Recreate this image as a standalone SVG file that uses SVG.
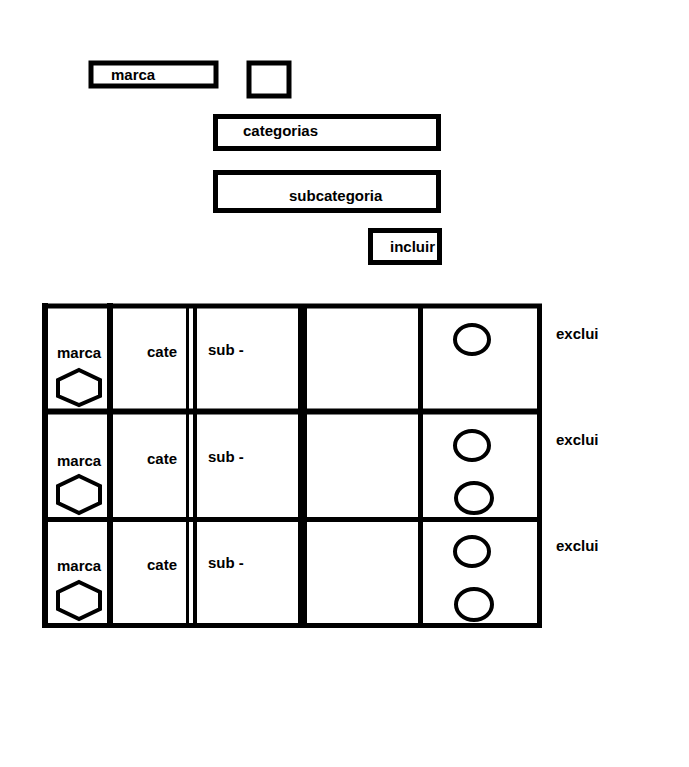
<svg xmlns="http://www.w3.org/2000/svg" width="689" height="767" viewBox="0 0 689 767">
<style>
text{font-family:"Liberation Sans",Arial,sans-serif;font-weight:bold;font-size:15px;fill:#000}
.b{fill:none;stroke:#000;stroke-width:5}
.l{stroke:#000}
.h{fill:none;stroke:#000;stroke-width:4;stroke-linejoin:miter}
.c{fill:none;stroke:#000;stroke-width:4}
</style>
<rect width="689" height="767" fill="#fff"/>
<g id="marca-input"><rect class="b" x="91" y="63" width="125" height="23" stroke-width="4.5"/><text x="111" y="80">marca</text></g>
<g id="checkbox"><rect class="b" x="249" y="63" width="40" height="33"/></g>
<g id="categorias-input"><rect class="b" x="215.5" y="116.5" width="223" height="32"/><text x="243" y="136">categorias</text></g>
<g id="subcategoria-input"><rect class="b" x="215.5" y="172.5" width="223" height="38"/><text x="289" y="201">subcategoria</text></g>
<g id="incluir-button"><rect class="b" x="370.5" y="230.5" width="69" height="32"/><text x="390" y="252">incluir</text></g>
<g id="table">
<g class="l">
<line x1="42" y1="306" x2="542" y2="306" stroke-width="5"/>
<line x1="42" y1="411.5" x2="542" y2="411.5" stroke-width="6"/>
<line x1="42" y1="519.5" x2="542" y2="519.5" stroke-width="5"/>
<line x1="42" y1="625.5" x2="542" y2="625.5" stroke-width="5"/>
<line x1="45" y1="303" x2="45" y2="628" stroke-width="6"/>
<line x1="110" y1="303" x2="110" y2="628" stroke-width="6"/>
<line x1="187.5" y1="304" x2="187.5" y2="628" stroke-width="3"/>
<line x1="195" y1="304" x2="195" y2="628" stroke-width="4"/>
<line x1="302.5" y1="304" x2="302.5" y2="628" stroke-width="9"/>
<line x1="420.5" y1="304" x2="420.5" y2="628" stroke-width="5"/>
<line x1="539.5" y1="304" x2="539.5" y2="628" stroke-width="5"/>
</g>
</g>
<g id="row1">
<text x="57" y="358">marca</text>
<polygon class="h" points="79,370 100,380 100,396 79,405 58,396 58,380"/>
<text x="147" y="357">cate</text>
<text x="208" y="355">sub -</text>
<ellipse class="c" cx="472" cy="339.5" rx="17" ry="14.5"/>
<text x="556" y="339">exclui</text>
</g>
<g id="row2">
<text x="57" y="466">marca</text>
<polygon class="h" points="79,476 100,486 100,503 79,513 58,503 58,486"/>
<text x="147" y="464">cate</text>
<text x="208" y="462">sub -</text>
<ellipse class="c" cx="472" cy="445.5" rx="17" ry="14.5"/>
<ellipse class="c" cx="474" cy="498" rx="18" ry="15"/>
<text x="556" y="445">exclui</text>
</g>
<g id="row3">
<text x="57" y="571">marca</text>
<polygon class="h" points="79,582 100,592 100,609 79,619 58,609 58,592"/>
<text x="147" y="570">cate</text>
<text x="208" y="568">sub -</text>
<ellipse class="c" cx="472" cy="551.5" rx="17" ry="14.5"/>
<ellipse class="c" cx="474" cy="604.5" rx="18" ry="15.5"/>
<text x="556" y="551">exclui</text>
</g>
</svg>
